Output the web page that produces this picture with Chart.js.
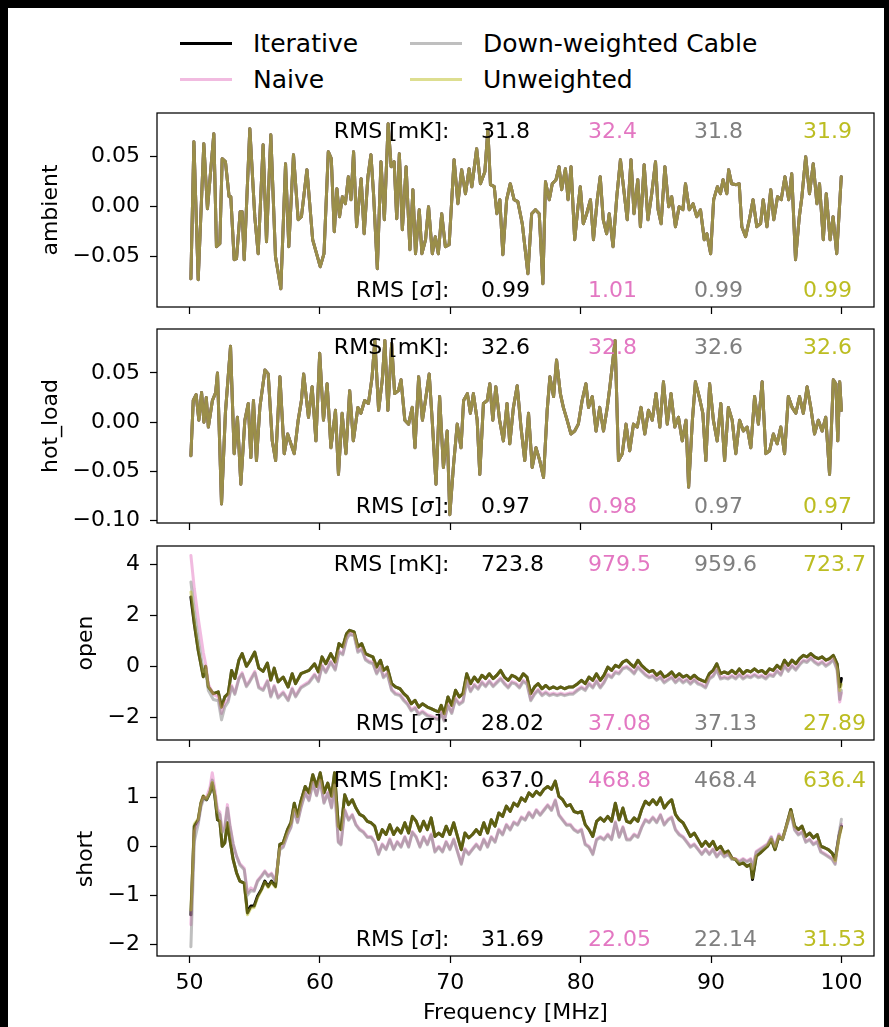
<!DOCTYPE html>
<html><head><meta charset="utf-8">
<script src="https://cdn.jsdelivr.net/npm/chart.js@4.4.1/dist/chart.umd.min.js"></script>
<style>
html,body{margin:0;padding:0;background:#000;width:889px;height:1027px;overflow:hidden;}
#sheet{position:absolute;left:8px;top:8px;width:876px;height:1019px;background:#fff;}
canvas{position:absolute;left:0;}
.legtxt{position:absolute;font-family:'DejaVu Sans';font-size:25px;line-height:25px;color:#000;white-space:nowrap;}
.legsw{position:absolute;height:3px;width:52px;}
</style></head><body>
<div id="sheet"></div>
<script>
// ---------------- data ----------------
const seriesNames = ['Iterative','Naive','Down-weighted Cable','Unweighted'];
const panelNames = ['ambient','hot_load','open','short'];
const xTicks = [50,60,70,80,90,100];
const ambientTicks = [-0.05,0.00,0.05];
const hotTicks = [-0.10,-0.05,0.00,0.05];
const openTicks = [-2,0,2,4];
const shortTicks = [-2,-1,0,1];
const rmsMK = [[31.8,32.4,31.8,31.9],[32.6,32.8,32.6,32.6],[723.8,979.5,959.6,723.7],[637.0,468.8,468.4,636.4]];
const rmsSigma = [[0.99,1.01,0.99,0.99],[0.97,0.98,0.97,0.97],[28.02,37.08,37.13,27.89],[31.69,22.05,22.14,31.53]];

const ambientFreq = [50.10,50.33,50.66,51.09,51.37,51.86,52.06,52.32,52.50,52.75,
53.03,53.16,53.42,53.60,53.88,54.03,54.19,54.62,55.00,55.26,
55.64,55.90,56.23,56.59,57.00,57.36,57.61,57.97,58.33,58.58,
59.00,59.44,60.02,60.31,60.64,60.87,61.10,61.30,61.50,61.72,
61.95,62.18,62.38,62.58,62.81,63.16,63.39,63.68,63.91,64.11,
64.40,64.68,64.94,65.23,65.46,65.69,65.89,66.09,66.32,66.61,
66.90,67.13,67.33,67.62,67.82,68.10,68.33,68.62,68.85,69.08,
69.34,69.62,69.91,70.29,70.58,70.87,71.16,71.44,71.65,72.02,
72.31,72.65,72.88,73.08,73.37,73.57,73.80,74.03,74.32,74.60,
74.89,75.18,75.52,75.95,76.24,76.53,76.82,77.10,77.30,77.59,
77.82,78.11,78.34,78.54,78.83,79.03,79.26,79.54,79.77,79.97,
80.20,80.46,80.75,80.98,81.27,81.50,81.73,81.99,82.19,82.48,
82.77,83.05,83.28,83.57,83.86,84.09,84.38,84.58,84.87,85.16,
85.45,85.74,85.94,86.17,86.46,86.75,86.98,87.27,87.55,87.84,
88.04,88.33,88.62,88.90,89.19,89.48,89.68,89.97,90.20,90.49,
90.72,90.92,91.21,91.35,91.58,91.93,92.16,92.36,92.65,92.94,
93.22,93.51,93.80,94.00,94.29,94.58,94.81,95.10,95.38,95.67,
95.96,96.19,96.48,96.77,96.97,97.26,97.55,97.84,98.12,98.32,
98.61,98.84,99.13,99.36,99.64,99.99];
const ambientValues = [-0.072,0.065,-0.073,0.063,-0.002,0.073,-0.040,-0.037,0.048,0.045,
0.010,0.010,-0.053,-0.052,-0.005,-0.005,-0.053,0.078,-0.010,-0.047,
0.062,-0.035,0.072,-0.050,-0.082,0.043,-0.040,0.052,-0.013,-0.010,
0.037,-0.033,-0.060,-0.047,0.055,0.048,-0.025,0.018,-0.010,0.010,
0.003,0.030,0.007,0.055,-0.020,0.028,-0.027,0.030,0.052,0.013,
-0.062,0.045,-0.013,0.083,0.040,0.045,-0.012,0.053,-0.023,0.040,
-0.043,0.017,-0.047,-0.003,-0.047,-0.033,0.000,-0.047,-0.030,-0.047,
-0.007,-0.040,-0.038,0.047,0.003,0.037,0.013,0.038,0.020,0.058,
0.023,0.035,0.077,0.022,0.020,-0.007,0.007,-0.048,0.007,0.023,
0.007,0.005,-0.017,-0.067,-0.007,-0.003,-0.007,-0.077,0.025,0.007,
0.023,0.027,0.040,0.017,0.038,0.007,0.040,-0.033,-0.003,0.020,
-0.017,-0.007,0.007,-0.033,0.007,0.030,-0.013,-0.027,-0.007,-0.040,
0.010,0.047,0.020,-0.013,0.047,-0.007,0.027,-0.020,0.042,-0.013,
0.013,0.045,-0.003,-0.017,0.040,0.000,0.010,-0.020,0.000,-0.003,
0.023,-0.003,0.003,-0.010,-0.003,-0.033,-0.027,-0.047,0.007,0.020,
0.013,0.027,0.013,0.037,0.023,0.022,0.023,-0.020,-0.030,-0.013,
0.007,-0.020,-0.017,0.007,-0.020,0.017,-0.013,0.010,0.007,0.030,
0.007,0.033,-0.053,-0.010,0.010,0.050,0.013,0.043,0.003,0.023,
-0.033,0.013,-0.033,-0.010,-0.047,0.030];

const hotFreq = [50.10,50.28,50.50,50.71,50.92,51.10,51.28,51.44,51.75,52.00,
52.14,52.45,52.75,53.14,53.42,53.67,53.93,54.24,54.50,54.70,
54.90,55.13,55.39,55.78,56.03,56.34,56.60,56.93,57.26,57.52,
57.77,58.03,58.33,58.58,58.75,59.12,59.40,59.69,59.98,60.27,
60.55,60.84,61.19,61.42,61.70,61.99,62.28,62.56,62.91,63.14,
63.43,63.72,64.00,64.21,64.50,64.78,64.98,65.21,65.50,65.73,
66.02,66.22,66.51,66.80,67.08,67.29,67.57,67.86,68.09,68.38,
68.61,68.90,69.18,69.47,69.76,69.96,70.25,70.53,70.82,71.02,
71.31,71.54,71.77,72.06,72.26,72.54,72.83,73.03,73.26,73.49,
73.78,74.07,74.35,74.56,74.84,75.13,75.42,75.71,76.00,76.28,
76.57,76.86,77.15,77.43,77.64,77.92,78.15,78.44,78.67,78.96,
79.25,79.54,79.82,80.11,80.40,80.60,80.89,81.18,81.46,81.75,
82.04,82.24,82.47,82.64,82.90,83.19,83.48,83.76,84.05,84.34,
84.63,84.92,85.20,85.49,85.78,86.07,86.35,86.64,86.93,87.22,
87.50,87.79,88.08,88.28,88.57,88.80,89.09,89.37,89.60,89.89,
90.18,90.47,90.75,91.04,91.33,91.62,91.90,92.19,92.48,92.77,
93.05,93.34,93.63,93.92,94.20,94.49,94.78,95.07,95.35,95.64,
95.93,96.22,96.50,96.79,97.08,97.37,97.65,97.94,98.23,98.52,
98.80,99.09,99.38,99.58,99.72,99.87,100.00];
const hotValues = [-0.034,0.022,0.028,0.002,0.030,0.000,0.025,-0.005,0.022,0.030,
0.050,-0.083,0.010,0.077,-0.032,0.005,-0.063,0.002,0.019,-0.036,
0.022,-0.039,0.015,0.053,0.049,-0.019,-0.039,0.046,-0.032,-0.012,
-0.022,-0.032,0.002,0.022,0.049,0.005,0.036,-0.019,0.070,0.002,
0.039,-0.026,0.012,-0.053,0.009,-0.032,0.032,-0.019,0.015,0.009,
0.022,0.019,0.046,0.083,0.012,0.043,0.083,0.012,0.080,0.029,
0.032,0.043,0.002,-0.002,0.015,-0.026,0.046,0.002,0.022,0.049,
0.002,-0.063,0.026,-0.046,-0.009,-0.094,-0.043,-0.002,-0.026,0.022,
0.029,0.009,0.029,0.002,-0.053,0.019,0.022,0.039,0.002,0.036,
0.002,-0.019,0.019,-0.022,0.015,0.037,-0.005,-0.039,0.009,-0.046,
-0.026,-0.039,-0.056,0.012,0.046,0.026,0.063,0.029,0.015,0.002,
-0.012,-0.009,-0.002,0.022,0.039,0.015,0.026,-0.009,0.015,-0.009,
0.015,0.036,0.063,0.083,-0.039,-0.032,-0.002,-0.029,-0.002,-0.005,
0.015,-0.012,0.012,0.002,0.029,-0.005,0.041,-0.002,0.029,-0.005,
0.005,-0.019,0.002,-0.066,0.002,0.041,0.026,0.009,-0.039,0.039,
0.002,-0.019,0.019,-0.039,0.015,0.002,-0.032,0.002,-0.009,-0.005,
-0.026,0.026,-0.002,0.041,-0.032,-0.029,-0.012,-0.022,-0.005,-0.032,
0.026,0.015,0.009,0.026,0.009,0.036,0.015,-0.012,0.002,-0.009,
0.005,-0.053,0.043,0.039,-0.019,0.041,0.012];

const openFreq = [50.10,50.36,50.66,51.05,51.23,51.44,51.82,52.20,52.45,52.70,
52.96,53.22,53.47,53.78,54.03,54.36,54.62,55.00,55.31,55.64,
55.97,56.23,56.49,56.79,57.18,57.56,57.87,58.13,58.54,59.16,
59.59,59.88,60.16,60.45,60.83,61.17,61.46,61.75,62.04,62.27,
62.62,62.91,63.20,63.49,63.77,64.06,64.35,64.64,64.87,65.16,
65.50,65.79,66.14,66.43,66.71,67.00,67.29,67.58,67.86,68.24,
68.53,68.81,69.10,69.30,69.53,69.82,70.11,70.40,70.69,70.97,
71.26,71.55,71.84,72.13,72.42,72.71,72.99,73.28,73.57,73.86,
74.15,74.44,74.72,75.01,75.30,75.59,75.88,76.17,76.46,76.74,
77.03,77.32,77.61,77.90,78.19,78.48,78.76,79.11,79.40,79.77,
80.06,80.35,80.64,80.93,81.21,81.50,81.79,82.08,82.37,82.66,
82.94,83.23,83.52,83.81,84.10,84.39,84.67,84.96,85.25,85.54,
85.83,86.12,86.40,86.69,86.98,87.27,87.56,87.85,88.14,88.42,
88.71,89.00,89.29,89.58,89.87,90.16,90.44,90.73,91.02,91.31,
91.60,91.89,92.17,92.46,92.75,93.04,93.33,93.62,93.90,94.19,
94.48,94.77,95.06,95.35,95.63,95.92,96.21,96.50,96.79,97.08,
97.36,97.65,97.94,98.23,98.52,98.81,99.09,99.38,99.67,99.87,
100.00];
const openIterative = [2.72,1.67,0.63,-0.41,0.00,-0.81,-1.07,-1.00,-1.60,-1.20,
-1.07,-0.16,-0.48,0.24,0.50,0.00,0.20,0.56,-0.07,-0.20,
0.13,-0.54,-0.07,-0.61,-0.42,-0.81,-0.29,-0.68,-0.29,-0.16,
0.10,-0.22,0.37,0.10,0.50,0.17,0.89,0.76,1.28,1.41,
1.35,0.76,0.89,0.50,0.43,0.37,-0.03,0.24,-0.16,-0.03,
-0.68,-0.81,-0.88,-1.07,-1.20,-1.47,-1.33,-1.60,-1.47,-1.60,
-1.66,-1.73,-1.79,-1.53,-1.86,-1.20,-1.53,-0.94,-1.20,-1.07,
-0.29,-0.68,-0.42,-0.61,-0.35,-0.48,-0.29,-0.48,-0.35,-0.16,
-0.42,-0.55,-0.35,-0.42,-0.55,-0.29,-0.42,-1.07,-0.81,-0.68,
-0.88,-0.75,-0.88,-0.81,-0.88,-0.81,-0.88,-0.81,-0.81,-0.68,
-0.55,-0.68,-0.42,-0.55,-0.29,-0.55,-0.35,-0.03,-0.16,0.04,
-0.03,0.17,0.24,0.10,-0.03,0.24,0.04,-0.10,-0.22,-0.16,
-0.35,-0.22,-0.42,-0.35,-0.22,-0.42,-0.29,-0.42,-0.35,-0.48,
-0.35,-0.48,-0.55,-0.61,-0.29,-0.16,0.10,-0.29,-0.22,-0.29,
-0.16,-0.29,-0.10,-0.29,-0.16,-0.22,-0.10,-0.22,-0.16,-0.29,
-0.10,-0.16,0.04,-0.10,0.24,0.04,0.24,0.10,0.30,0.43,
0.37,0.50,0.37,0.30,0.37,0.24,0.30,0.43,0.10,-0.81,
-0.48];
const openNaive = [4.35,3.05,1.90,0.55,0.10,-0.70,-1.10,-1.20,-1.85,-1.45,
-1.30,-0.75,-1.05,-0.45,-0.25,-0.75,-0.55,-0.20,-0.80,-0.90,
-0.55,-1.15,-0.75,-1.20,-1.00,-1.30,-0.85,-1.15,-0.80,-0.60,
-0.30,-0.55,0.05,-0.20,0.20,-0.10,0.60,0.50,1.10,1.30,
1.25,0.60,0.70,0.30,0.20,0.15,-0.25,0.00,-0.40,-0.25,
-0.90,-1.05,-1.10,-1.30,-1.45,-1.70,-1.60,-1.85,-1.75,-1.90,
-1.95,-2.00,-2.05,-1.80,-2.10,-1.50,-1.80,-1.25,-1.45,-1.35,
-0.55,-0.95,-0.70,-0.85,-0.60,-0.75,-0.55,-0.75,-0.60,-0.45,
-0.65,-0.80,-0.60,-0.65,-0.80,-0.55,-0.65,-1.30,-1.05,-0.90,
-1.10,-1.00,-1.10,-1.05,-1.10,-1.05,-1.10,-1.05,-1.05,-0.90,
-0.80,-0.90,-0.65,-0.80,-0.55,-0.80,-0.60,-0.30,-0.40,-0.20,
-0.25,-0.05,0.00,-0.10,-0.25,0.00,-0.15,-0.30,-0.40,-0.35,
-0.50,-0.40,-0.60,-0.50,-0.40,-0.60,-0.45,-0.60,-0.50,-0.65,
-0.50,-0.65,-0.70,-0.80,-0.45,-0.35,-0.10,-0.45,-0.40,-0.45,
-0.35,-0.45,-0.30,-0.45,-0.35,-0.40,-0.30,-0.40,-0.35,-0.45,
-0.30,-0.35,-0.15,-0.30,0.05,-0.15,0.05,-0.10,0.10,0.25,
0.20,0.35,0.20,0.10,0.20,0.05,0.15,0.30,-0.10,-1.40,
-1.05];
const openDownweighted = [3.31,2.20,1.10,-0.20,-0.15,-0.95,-1.30,-1.35,-2.10,-1.60,
-1.40,-0.80,-1.10,-0.50,-0.30,-0.80,-0.60,-0.25,-0.85,-0.95,
-0.60,-1.20,-0.80,-1.25,-1.05,-1.35,-0.90,-1.20,-0.85,-0.65,
-0.35,-0.60,0.00,-0.25,0.15,-0.15,0.55,0.45,1.05,1.25,
1.20,0.55,0.65,0.25,0.15,0.10,-0.30,-0.05,-0.45,-0.30,
-0.95,-1.10,-1.15,-1.35,-1.50,-1.75,-1.65,-1.90,-1.80,-1.95,
-2.00,-2.05,-2.10,-1.85,-2.15,-1.55,-1.85,-1.30,-1.50,-1.40,
-0.60,-1.00,-0.75,-0.90,-0.65,-0.80,-0.60,-0.80,-0.65,-0.50,
-0.70,-0.85,-0.65,-0.70,-0.85,-0.60,-0.70,-1.35,-1.10,-0.95,
-1.15,-1.05,-1.15,-1.10,-1.15,-1.10,-1.15,-1.10,-1.10,-0.95,
-0.85,-0.95,-0.70,-0.85,-0.60,-0.85,-0.65,-0.35,-0.45,-0.25,
-0.30,-0.10,-0.05,-0.15,-0.30,-0.05,-0.20,-0.35,-0.45,-0.40,
-0.55,-0.45,-0.65,-0.55,-0.45,-0.65,-0.50,-0.65,-0.55,-0.70,
-0.55,-0.70,-0.75,-0.85,-0.50,-0.40,-0.15,-0.50,-0.45,-0.50,
-0.40,-0.50,-0.35,-0.50,-0.40,-0.45,-0.35,-0.45,-0.40,-0.50,
-0.35,-0.40,-0.20,-0.35,0.00,-0.20,0.00,-0.15,0.05,0.20,
0.15,0.30,0.15,0.05,0.15,0.00,0.10,0.25,-0.15,-1.30,
-0.95];
const openUnweighted = [2.92,1.70,0.63,-0.41,0.00,-0.81,-1.07,-1.00,-1.60,-1.20,
-1.07,-0.16,-0.48,0.24,0.50,0.00,0.20,0.56,-0.07,-0.20,
0.13,-0.54,-0.07,-0.61,-0.42,-0.81,-0.29,-0.68,-0.29,-0.16,
0.10,-0.22,0.37,0.10,0.50,0.17,0.89,0.76,1.28,1.41,
1.35,0.76,0.89,0.50,0.43,0.37,-0.03,0.24,-0.16,-0.03,
-0.68,-0.81,-0.88,-1.07,-1.20,-1.47,-1.33,-1.60,-1.47,-1.60,
-1.66,-1.73,-1.79,-1.53,-1.86,-1.20,-1.53,-0.94,-1.20,-1.07,
-0.29,-0.68,-0.42,-0.61,-0.35,-0.48,-0.29,-0.48,-0.35,-0.16,
-0.42,-0.55,-0.35,-0.42,-0.55,-0.29,-0.42,-1.07,-0.81,-0.68,
-0.88,-0.75,-0.88,-0.81,-0.88,-0.81,-0.88,-0.81,-0.81,-0.68,
-0.55,-0.68,-0.42,-0.55,-0.29,-0.55,-0.35,-0.03,-0.16,0.04,
-0.03,0.17,0.24,0.10,-0.03,0.24,0.04,-0.10,-0.22,-0.16,
-0.35,-0.22,-0.42,-0.35,-0.22,-0.42,-0.29,-0.42,-0.35,-0.48,
-0.35,-0.48,-0.55,-0.61,-0.29,-0.16,0.10,-0.29,-0.22,-0.29,
-0.16,-0.29,-0.10,-0.29,-0.16,-0.22,-0.10,-0.22,-0.16,-0.29,
-0.10,-0.16,0.04,-0.10,0.24,0.04,0.24,0.10,0.30,0.43,
0.37,0.50,0.37,0.30,0.37,0.24,0.30,0.43,0.10,-0.95,
-0.70];

const shortFreq = [50.10,50.36,50.66,50.87,51.05,51.30,51.56,51.74,51.94,52.14,
52.32,52.50,52.70,52.90,53.09,53.34,53.60,53.85,54.19,54.44,
54.70,54.95,55.21,55.51,55.77,56.03,56.28,56.59,56.92,57.18,
57.51,57.77,58.03,58.28,58.54,58.87,59.16,59.45,59.74,60.02,
60.31,60.60,60.89,61.12,61.41,61.61,61.90,62.19,62.48,62.76,
63.05,63.34,63.63,63.92,64.20,64.49,64.78,65.07,65.36,65.65,
65.93,66.22,66.51,66.80,67.09,67.38,67.67,67.95,68.24,68.53,
68.82,69.11,69.40,69.68,69.97,70.26,70.55,70.84,71.12,71.41,
71.70,71.99,72.28,72.57,72.86,73.14,73.43,73.72,74.01,74.30,
74.59,74.87,75.16,75.45,75.74,76.03,76.32,76.60,76.89,77.18,
77.47,77.76,78.05,78.33,78.62,78.91,79.20,79.49,79.78,80.06,
80.35,80.64,80.93,81.22,81.51,81.79,82.08,82.37,82.66,82.95,
83.24,83.52,83.81,84.10,84.39,84.68,84.96,85.25,85.54,85.83,
86.12,86.41,86.69,86.98,87.27,87.56,87.85,88.14,88.42,88.71,
89.00,89.29,89.58,89.87,90.15,90.44,90.73,91.02,91.31,91.60,
91.88,92.17,92.46,92.75,93.04,93.18,93.47,93.76,94.04,94.33,
94.62,94.91,95.20,95.48,95.77,96.12,96.41,96.70,96.98,97.27,
97.56,97.85,98.14,98.42,98.71,99.00,99.29,99.52,99.81,100.00];
const shortIterative = [-1.40,0.41,0.54,0.88,1.02,0.95,1.09,1.29,1.02,0.54,
0.51,0.00,0.07,0.48,0.14,-0.27,-0.54,-0.71,-0.75,-1.36,
-1.22,-1.22,-1.02,-0.88,-0.71,-0.82,-0.71,-0.82,0.04,0.07,
0.34,0.48,0.88,0.61,0.92,1.22,1.09,1.46,1.22,1.50,
1.09,1.29,1.02,1.50,0.41,0.34,1.05,0.85,0.95,0.78,
0.65,0.61,0.51,0.48,0.41,0.14,0.34,0.24,0.44,0.24,
0.37,0.27,0.48,0.27,0.61,0.51,0.31,0.51,0.34,0.58,
0.20,0.27,0.20,0.41,0.24,0.48,0.20,-0.07,0.27,0.17,
0.24,0.34,0.24,0.48,0.27,0.54,0.41,0.68,0.61,0.82,
0.71,0.88,0.82,0.99,0.92,1.09,1.02,1.12,1.05,1.16,
1.22,1.16,1.33,1.02,0.95,0.82,0.85,0.71,0.68,0.71,
0.44,0.34,0.20,0.51,0.58,0.51,0.61,0.51,0.88,0.54,
0.78,0.51,0.48,0.58,0.51,0.75,0.92,0.85,0.95,0.85,
0.99,0.78,0.88,0.95,0.65,0.54,0.48,0.34,0.20,0.27,
0.14,0.00,0.10,0.00,0.10,-0.07,0.00,-0.14,-0.10,-0.24,
-0.27,-0.37,-0.34,-0.41,-0.37,-0.68,-0.20,-0.14,-0.07,0.00,
0.14,-0.07,0.20,0.14,0.41,0.75,0.41,0.34,0.41,0.20,
0.27,0.17,0.24,0.00,-0.03,-0.07,-0.14,-0.27,0.20,0.41];
const shortNaive = [-1.60,0.30,0.50,0.85,1.00,1.00,1.20,1.50,1.15,0.75,
0.70,0.30,0.40,0.85,0.45,0.05,-0.20,-0.35,-0.45,-0.95,
-0.85,-0.90,-0.70,-0.60,-0.50,-0.60,-0.55,-0.70,-0.05,0.00,
0.25,0.40,0.75,0.50,0.80,1.10,0.95,1.30,1.05,1.35,
0.90,1.10,0.80,1.25,0.10,0.05,0.75,0.55,0.65,0.45,
0.35,0.30,0.20,0.20,0.10,-0.15,0.05,-0.05,0.15,-0.05,
0.10,0.00,0.20,0.00,0.30,0.20,0.00,0.20,0.05,0.25,
-0.10,0.00,-0.10,0.10,-0.05,0.15,-0.10,-0.35,-0.05,-0.15,
-0.05,0.05,-0.05,0.15,0.00,0.20,0.10,0.35,0.25,0.45,
0.35,0.50,0.45,0.60,0.55,0.70,0.60,0.75,0.65,0.75,
0.85,0.75,0.95,0.65,0.55,0.45,0.45,0.35,0.30,0.35,
0.05,0.00,-0.15,0.15,0.20,0.15,0.25,0.15,0.50,0.20,
0.40,0.15,0.15,0.25,0.20,0.40,0.55,0.50,0.60,0.50,
0.65,0.45,0.55,0.60,0.35,0.25,0.20,0.10,0.00,0.05,
-0.05,-0.15,-0.05,-0.15,-0.05,-0.20,-0.10,-0.20,-0.15,-0.25,
-0.25,-0.30,-0.25,-0.30,-0.25,-0.45,-0.10,-0.05,0.00,0.05,
0.20,0.00,0.25,0.15,0.40,0.70,0.35,0.25,0.30,0.10,
0.15,0.05,0.10,-0.10,-0.15,-0.20,-0.25,-0.35,0.20,0.45];
const shortDownweighted = [-2.05,0.10,0.45,0.80,0.95,0.95,1.10,1.35,1.05,0.70,
0.65,0.28,0.38,0.78,0.42,0.05,-0.20,-0.38,-0.48,-1.00,
-0.90,-0.92,-0.72,-0.62,-0.52,-0.62,-0.57,-0.72,-0.07,-0.02,
0.23,0.38,0.73,0.48,0.78,1.08,0.93,1.28,1.03,1.33,
0.88,1.08,0.78,1.23,0.08,0.03,0.73,0.53,0.63,0.43,
0.33,0.28,0.18,0.18,0.08,-0.17,0.03,-0.07,0.13,-0.07,
0.08,-0.02,0.18,-0.02,0.28,0.18,-0.02,0.18,0.03,0.23,
-0.12,-0.02,-0.12,0.08,-0.07,0.13,-0.12,-0.37,-0.07,-0.17,
-0.07,0.03,-0.07,0.13,-0.02,0.18,0.08,0.33,0.23,0.43,
0.33,0.48,0.43,0.58,0.53,0.68,0.58,0.73,0.63,0.73,
0.83,0.73,0.93,0.63,0.53,0.43,0.43,0.33,0.28,0.33,
0.03,-0.02,-0.17,0.13,0.18,0.13,0.23,0.13,0.48,0.18,
0.38,0.13,0.13,0.23,0.18,0.38,0.53,0.48,0.58,0.48,
0.63,0.43,0.53,0.58,0.33,0.23,0.18,0.08,-0.02,0.03,
-0.07,-0.17,-0.07,-0.17,-0.07,-0.22,-0.12,-0.22,-0.17,-0.27,
-0.27,-0.32,-0.27,-0.32,-0.27,-0.47,-0.12,-0.07,-0.02,0.03,
0.18,-0.02,0.23,0.13,0.38,0.68,0.33,0.23,0.28,0.08,
0.13,0.03,0.08,-0.12,-0.17,-0.22,-0.27,-0.37,0.25,0.55];
const shortUnweighted = [-1.30,0.45,0.56,0.90,1.03,0.96,1.10,1.30,1.03,0.55,
0.51,0.00,0.07,0.48,0.14,-0.27,-0.54,-0.71,-0.75,-1.40,
-1.26,-1.25,-1.05,-0.90,-0.73,-0.84,-0.73,-0.84,0.04,0.07,
0.34,0.48,0.88,0.61,0.92,1.22,1.09,1.46,1.22,1.50,
1.09,1.29,1.02,1.50,0.41,0.34,1.05,0.85,0.95,0.78,
0.65,0.61,0.51,0.48,0.41,0.14,0.34,0.24,0.44,0.24,
0.37,0.27,0.48,0.27,0.61,0.51,0.31,0.51,0.34,0.58,
0.20,0.27,0.20,0.41,0.24,0.48,0.20,-0.07,0.27,0.17,
0.24,0.34,0.24,0.48,0.27,0.54,0.41,0.68,0.61,0.82,
0.71,0.88,0.82,0.99,0.92,1.09,1.02,1.12,1.05,1.16,
1.22,1.16,1.33,1.02,0.95,0.82,0.85,0.71,0.68,0.71,
0.44,0.34,0.20,0.51,0.58,0.51,0.61,0.51,0.88,0.54,
0.78,0.51,0.48,0.58,0.51,0.75,0.92,0.85,0.95,0.85,
0.99,0.78,0.88,0.95,0.65,0.54,0.48,0.34,0.20,0.27,
0.14,0.00,0.10,0.00,0.10,-0.07,0.00,-0.14,-0.10,-0.24,
-0.27,-0.37,-0.34,-0.41,-0.37,-0.65,-0.20,-0.14,-0.07,0.00,
0.14,-0.07,0.20,0.14,0.41,0.75,0.41,0.34,0.41,0.20,
0.27,0.17,0.24,0.00,-0.03,-0.07,-0.14,-0.30,0.15,0.38];

// ---------------- styles / layout ----------------
const lineColors = ['rgba(0,0,0,1)','rgba(227,119,194,0.5)','rgba(127,127,127,0.5)','rgba(188,189,34,0.5)'];
const textColors = ['#000000','#e377c2','#7f7f7f','#bcbd22'];
const FONT = 'DejaVu Sans';
const FS = 22;
const PANEL_H = 194;
const AXIS_W = 157;
const TICK_LEN = 7;
const TICK_PAD = 10;

const panels = [
  {name:panelNames[0], freq:ambientFreq, series:[ambientValues,ambientValues,ambientValues,ambientValues], ticks:ambientTicks, dec:2, min:-0.1003, max:0.0937, top:113},
  {name:panelNames[1], freq:hotFreq, series:[hotValues,hotValues,hotValues,hotValues], ticks:hotTicks, dec:2, min:-0.1024, max:0.0946, top:329},
  {name:panelNames[2], freq:openFreq, series:[openIterative,openNaive,openDownweighted,openUnweighted], ticks:openTicks, dec:0, min:-2.89, max:4.72, top:546},
  {name:panelNames[3], freq:shortFreq, series:[shortIterative,shortNaive,shortDownweighted,shortUnweighted], ticks:shortTicks, dec:0, min:-2.24, max:1.72, top:762}
];

function fmt(v, dec){
  const s = Math.abs(v).toFixed(dec);
  return (v < 0 && Math.abs(v) > 1e-12) ? '\u2212' + s : s;
}

// legend (HTML)
const legendPos = [[180,43],[180,79],[410,43],[410,79]];
seriesNames.forEach((n,i)=>{
  const [x,y] = legendPos[i];
  const sw = document.createElement('div');
  sw.className='legsw'; sw.style.left=x+'px'; sw.style.top=(y-1.5)+'px'; sw.style.background=lineColors[i];
  document.body.appendChild(sw);
  const t = document.createElement('div');
  t.className='legtxt'; t.style.left=(x+73)+'px'; t.style.top=(y-12)+'px'; t.textContent=n;
  document.body.appendChild(t);
});

const decor = {
  id:'decor',
  afterDatasetsDraw(chart){
    const p = chart.options.plugins.decor;
    const {ctx, chartArea:a} = chart;
    const w = a.right - a.left, h = a.bottom - a.top;
    ctx.save();
    ctx.strokeStyle = '#000'; ctx.lineWidth = 1.25;
    ctx.strokeRect(a.left, a.top, w, h);
    ctx.font = FS + 'px "' + FONT + '"';
    ctx.textBaseline = 'middle';
    const y1 = a.top + 0.1*h, y2 = a.bottom - 0.08*h;
    const R = a.left + 0.408*w;
    ctx.fillStyle = '#000'; ctx.textAlign = 'right';
    ctx.fillText('RMS [mK]:', R, y1);
    const tail = ']:';
    const wTail = ctx.measureText(tail).width;
    ctx.fillText(tail, R, y2);
    ctx.font = 'italic ' + FS + 'px "' + FONT + '"';
    const wSig = ctx.measureText('\u03c3').width;
    ctx.textAlign = 'left';
    ctx.fillText('\u03c3', R - wTail - wSig, y2);
    ctx.font = FS + 'px "' + FONT + '"';
    ctx.textAlign = 'right';
    ctx.fillText('RMS [', R - wTail - wSig, y2);
    const cols = [0.452, 0.601, 0.749, 0.901];
    ctx.textAlign = 'left';
    for (let i = 0; i < 4; i++){
      ctx.fillStyle = textColors[i];
      ctx.fillText(rmsMK[p.idx][i].toFixed(1), a.left + cols[i]*w, y1);
      ctx.fillText(rmsSigma[p.idx][i].toFixed(2), a.left + cols[i]*w, y2);
    }
    ctx.restore();
  },
  afterDraw(chart){
    const p = chart.options.plugins.decor;
    const {ctx, chartArea:a} = chart;
    ctx.save();
    ctx.font = FS + 'px "' + FONT + '"';
    let maxW = 0;
    p.ticks.forEach(v => { maxW = Math.max(maxW, ctx.measureText(fmt(v, p.dec)).width); });
    const bx = a.left - TICK_LEN - TICK_PAD - maxW - 16;
    ctx.translate(bx, (a.top + a.bottom)/2);
    ctx.rotate(-Math.PI/2);
    ctx.fillStyle = '#000'; ctx.textAlign = 'center'; ctx.textBaseline = 'alphabetic';
    ctx.fillText(p.name, 0, 0);
    ctx.restore();
  }
};

panels.forEach((p, idx) => {
  const isBottom = idx === panels.length - 1;
  const cTop = p.top - 10;
  const cH = isBottom ? (1027 - cTop) : (10 + PANEL_H + 10);
  const xH = cH - 10 - PANEL_H;
  const cv = document.createElement('canvas');
  cv.width = 889; cv.height = cH;
  cv.style.top = cTop + 'px';
  cv.style.width = '889px'; cv.style.height = cH + 'px';
  document.body.appendChild(cv);

  const datasets = seriesNames.map((n, i) => ({
    label: n,
    data: p.freq.map((f, k) => ({x: f, y: p.series[i][k]})),
    borderColor: lineColors[i],
    backgroundColor: lineColors[i],
    borderWidth: 3,
    pointRadius: 0,
    tension: 0,
    fill: false,
    order: 3 - i,
    borderJoinStyle: 'round',
    borderCapStyle: 'round'
  }));

  new Chart(cv, {
    type: 'line',
    data: {datasets},
    options: {
      responsive: false, animation: false, devicePixelRatio: 1,
      events: [],
      layout: {padding: {left: 0, right: 15, top: 10, bottom: 0}},
      plugins: {legend: {display: false}, tooltip: {enabled: false},
        decor: {idx, name: p.name, ticks: p.ticks, dec: p.dec}},
      scales: {
        x: {
          type: 'linear', min: 47.5, max: 102.5,
          afterBuildTicks: s => { s.ticks = xTicks.map(v => ({value: v})); },
          afterFit: s => { s.height = xH; s.paddingLeft = 0; s.paddingRight = 0; s.paddingTop = 0; s.paddingBottom = 0; },
          grid: {display: true, drawOnChartArea: false, drawTicks: true, tickLength: TICK_LEN, tickWidth: 1.25, tickColor: '#000'},
          border: {display: false},
          ticks: {color: isBottom ? '#000' : 'rgba(0,0,0,0)', font: {family: FONT, size: FS}, padding: 7, maxRotation: 0, autoSkip: false,
                  callback: v => String(v)},
          title: {display: isBottom, text: 'Frequency [MHz]', color: '#000', font: {family: FONT, size: FS}, padding: {top: 0, bottom: 1}}
        },
        y: {
          type: 'linear', min: p.min, max: p.max,
          afterBuildTicks: s => { s.ticks = p.ticks.map(v => ({value: v})); },
          afterFit: s => { s.width = AXIS_W; s.paddingTop = 0; s.paddingBottom = 0; s.paddingLeft = 0; s.paddingRight = 0; },
          grid: {display: true, drawOnChartArea: false, drawTicks: true, tickLength: TICK_LEN, tickWidth: 1.25, tickColor: '#000'},
          border: {display: false},
          ticks: {color: '#000', font: {family: FONT, size: FS}, padding: TICK_PAD, autoSkip: false,
                  callback: v => fmt(v, p.dec)}
        }
      }
    },
    plugins: [decor]
  });
});
</script>
</body></html>
